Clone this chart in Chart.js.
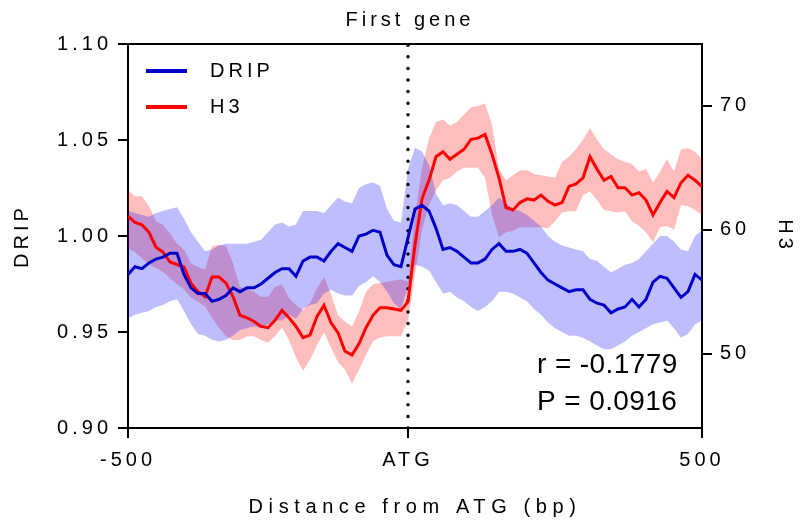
<!DOCTYPE html>
<html>
<head>
<meta charset="utf-8">
<script src="https://cdn.jsdelivr.net/npm/chart.js@4.4.0/dist/chart.umd.min.js"></script>
<style>
  html, body { margin: 0; padding: 0; background: #fff; }
</style>
</head>
<body>
<canvas id="chart" width="800" height="522"></canvas>
<script>
// profile bins: 83 bins from -500 to +500 bp, ATG sits at bin 40
const tickBins = [0, 40, 82];
const tickLabels = ['-500', 'ATG', '500'];
const atgBin = 40;
const dripTicks = [0.90, 0.95, 1.00, 1.05, 1.10];
const h3Ticks = [50, 60, 70];
const stats = ['r = -0.1779', 'P = 0.0916'];

const dripMean = [
  0.980, 0.984, 0.983, 0.986, 0.988, 0.989, 0.991, 0.991, 0.980, 0.973,
  0.970, 0.970, 0.966, 0.967, 0.969, 0.973, 0.971, 0.973, 0.973, 0.975,
  0.978, 0.981, 0.983, 0.983, 0.979, 0.987, 0.989, 0.989, 0.987, 0.992,
  0.996, 0.994, 0.992, 1.000, 1.001, 1.003, 1.002, 0.990, 0.985, 0.984,
  0.999, 1.014, 1.016, 1.013, 1.004, 0.993, 0.994, 0.992, 0.989, 0.986,
  0.986, 0.988, 0.993, 0.996, 0.992, 0.992, 0.993, 0.991, 0.986, 0.981,
  0.977, 0.975, 0.973, 0.971, 0.972, 0.972, 0.967, 0.965, 0.964, 0.960,
  0.962, 0.963, 0.967, 0.963, 0.967, 0.976, 0.979, 0.978, 0.973, 0.968,
  0.971, 0.980, 0.977
];
const dripUpper = [
  1.013, 1.012, 1.011, 1.010, 1.012, 1.013, 1.014, 1.015, 1.009, 1.002,
  0.997, 0.992, 0.993, 0.995, 0.996, 0.996, 0.996, 0.996, 0.997, 0.998,
  1.002, 1.006, 1.007, 1.005, 1.006, 1.013, 1.013, 1.013, 1.012, 1.016,
  1.020, 1.018, 1.017, 1.025, 1.027, 1.028, 1.026, 1.014, 1.008, 1.007,
  1.035, 1.046, 1.044, 1.037, 1.022, 1.016, 1.017, 1.016, 1.013, 1.010,
  1.010, 1.013, 1.016, 1.020, 1.017, 1.014, 1.013, 1.011, 1.008, 1.005,
  1.000, 0.997, 0.995, 0.994, 0.993, 0.992, 0.988, 0.987, 0.984, 0.981,
  0.983, 0.985, 0.986, 0.988, 0.992, 0.996, 1.000, 1.000, 0.997, 0.993,
  0.992, 1.000, 1.003
];
const dripLower = [
  0.957, 0.959, 0.960, 0.961, 0.963, 0.964, 0.966, 0.967, 0.961, 0.954,
  0.949, 0.948, 0.946, 0.945, 0.946, 0.948, 0.951, 0.952, 0.953, 0.952,
  0.954, 0.956, 0.956, 0.959, 0.957, 0.962, 0.964, 0.965, 0.970, 0.972,
  0.970, 0.969, 0.969, 0.974, 0.976, 0.979, 0.976, 0.971, 0.965, 0.962,
  0.974, 0.985, 0.984, 0.982, 0.976, 0.970, 0.971, 0.968, 0.966, 0.963,
  0.961, 0.963, 0.966, 0.971, 0.971, 0.970, 0.968, 0.966, 0.962, 0.959,
  0.955, 0.952, 0.950, 0.948, 0.948, 0.947, 0.945, 0.943, 0.941, 0.941,
  0.943, 0.945, 0.948, 0.950, 0.952, 0.954, 0.955, 0.956, 0.952, 0.947,
  0.949, 0.954, 0.956
];

const h3Mean = [
  61.1, 60.6, 60.4, 59.8, 58.6, 58.2, 57.4, 57.2, 57.0, 55.7,
  55.0, 54.6, 56.2, 56.2, 55.7, 54.6, 53.1, 52.9, 52.6, 52.2,
  52.1, 52.7, 53.5, 52.9, 52.2, 51.3, 51.5, 53.0, 53.9, 52.5,
  51.7, 50.2, 49.9, 50.8, 52.1, 53.1, 53.7, 53.7, 53.6, 53.5,
  54.2, 58.8, 62.5, 64.0, 65.9, 66.3, 65.7, 66.1, 66.5, 67.3,
  67.4, 67.7, 66.1, 64.2, 61.8, 61.6, 62.2, 62.5, 62.4, 62.8,
  62.3, 62.0, 62.2, 63.5, 63.7, 64.2, 65.9, 64.9, 64.0, 64.3,
  63.4, 63.4, 62.8, 63.0, 62.4, 61.2, 62.2, 63.1, 62.6, 63.8,
  64.4, 64.0, 63.5
];
const h3Upper = [
  63.2, 62.7, 62.7, 61.9, 60.7, 60.4, 59.7, 58.9, 58.4, 57.3,
  57.0, 56.8, 58.7, 58.8, 58.7, 57.3, 55.4, 55.2, 55.0, 54.6,
  54.6, 55.4, 55.6, 54.5, 53.9, 53.5, 54.1, 55.3, 56.2, 54.8,
  53.1, 52.6, 52.2, 53.4, 55.0, 55.6, 55.7, 55.8, 55.9, 56.0,
  55.8, 61.2, 65.0, 67.4, 68.7, 68.9, 68.4, 68.7, 69.3, 69.9,
  70.0, 70.2, 68.5, 64.9, 64.0, 64.4, 64.8, 64.8, 64.5, 64.4,
  64.3, 64.2, 65.5, 65.9, 66.5, 67.3, 68.2, 67.3, 66.5, 66.1,
  65.7, 65.5, 65.3, 64.7, 64.9, 63.8, 64.7, 65.7, 64.7, 66.5,
  66.6, 66.3, 65.7
];
const h3Lower = [
  58.5, 58.2, 57.7, 57.2, 56.9, 56.6, 56.1, 55.6, 55.2, 54.5,
  54.2, 53.8, 52.9, 52.1, 51.4, 51.1, 51.1, 51.4, 51.4, 51.1,
  50.9, 51.4, 52.1, 51.1, 49.7, 48.6, 49.5, 50.7, 51.7, 50.5,
  49.3, 48.7, 47.6, 48.7, 49.9, 51.0, 51.3, 51.4, 51.4, 51.4,
  52.7, 56.4, 60.0, 62.0, 63.2, 64.0, 64.2, 64.7, 65.0, 65.0,
  65.0, 64.2, 61.2, 59.4, 59.8, 59.9, 60.2, 60.2, 60.2, 60.2,
  60.1, 60.7, 61.4, 61.5, 61.5, 62.8, 63.1, 62.4, 61.6, 61.5,
  61.4, 61.5, 60.7, 60.3, 59.8, 59.0, 60.2, 60.3, 60.0, 62.0,
  61.9, 61.6, 61.2
];

const FONT = '"Liberation Sans", Arial, Helvetica, sans-serif';
Chart.defaults.font.family = FONT;
Chart.defaults.font.size = 20;
Chart.defaults.color = '#000';

const pts = arr => arr.map((y, i) => ({ x: i, y }));

const blue = '#0000c8';
const red = '#ff0000';

// canvas letter spacing (Prism-style wide text); reset by canvas resize so set it each pass
const spacing = {
  id: 'spacing',
  beforeUpdate(chart) { chart.ctx.letterSpacing = '4px'; },
  beforeDraw(chart) { chart.ctx.letterSpacing = '4px'; }
};

// x axis title is spaced out a bit wider than the tick labels
function wideTitle(scale) {
  if (scale._wideTitle) return;
  const draw = scale.drawTitle.bind(scale);
  scale.drawTitle = () => {
    scale.ctx.save();
    scale.ctx.letterSpacing = '5.6px';
    draw();
    scale.ctx.restore();
  };
  scale._wideTitle = true;
}

// title over the ATG mark, in-plot legend and correlation text
const extras = {
  id: 'extras',
  afterDraw(chart) {
    const { ctx, chartArea, scales } = chart;
    ctx.save();
    ctx.fillStyle = '#000';
    ctx.textBaseline = 'middle';
    ctx.font = '20px ' + FONT;
    ctx.letterSpacing = '4px';
    ctx.textAlign = 'center';
    ctx.fillText('First gene', scales.x.getPixelForValue(atgBin) + 2, 20);

    const items = chart.data.datasets.filter(d => d.inLegend);
    items.forEach((d, k) => {
      const y = chartArea.top + 27 + k * 36;
      ctx.strokeStyle = d.borderColor;
      ctx.lineWidth = 4;
      ctx.beginPath();
      ctx.moveTo(chartArea.left + 18, y);
      ctx.lineTo(chartArea.left + 59, y);
      ctx.stroke();
      ctx.textAlign = 'left';
      ctx.fillText(d.label, chartArea.left + 82, y);
    });

    ctx.font = '28px ' + FONT;
    ctx.letterSpacing = '0.4px';
    ctx.textAlign = 'left';
    stats.forEach((s, k) => ctx.fillText(s, 537, 365 + k * 37));
    ctx.restore();
  }
};

new Chart(document.getElementById('chart'), {
  type: 'line',
  data: {
    datasets: [
      { label: 'DRIP', inLegend: true, data: pts(dripMean), yAxisID: 'y',
        borderColor: blue, borderWidth: 3, order: 0 },
      { label: 'H3', inLegend: true, data: pts(h3Mean), yAxisID: 'y2',
        borderColor: red, borderWidth: 3, order: 1 },
      { label: 'ATG', data: [{ x: atgBin, y: dripTicks[0] }, { x: atgBin, y: dripTicks[dripTicks.length - 1] }],
        yAxisID: 'y', borderColor: '#000', borderWidth: 3.5, borderDash: [0, 11.6],
        borderCapStyle: 'round', order: 2 },
      { label: 'DRIP upper', data: pts(dripUpper), yAxisID: 'y', borderWidth: 0,
        fill: '+1', backgroundColor: 'rgba(0,0,255,0.255)', order: 3 },
      { label: 'DRIP lower', data: pts(dripLower), yAxisID: 'y', borderWidth: 0, order: 3 },
      { label: 'H3 upper', data: pts(h3Upper), yAxisID: 'y2', borderWidth: 0,
        fill: '+1', backgroundColor: 'rgba(255,0,0,0.255)', order: 4 },
      { label: 'H3 lower', data: pts(h3Lower), yAxisID: 'y2', borderWidth: 0, order: 4 }
    ]
  },
  options: {
    responsive: false,
    devicePixelRatio: 1,
    animation: false,
    events: [],
    layout: { padding: { top: 44, left: 0, right: 0, bottom: 0 } },
    elements: { point: { radius: 0 }, line: { tension: 0 } },
    plugins: { legend: { display: false }, tooltip: { enabled: false } },
    scales: {
      x: {
        type: 'linear', min: tickBins[0], max: tickBins[tickBins.length - 1],
        afterBuildTicks: s => { s.ticks = tickBins.map(v => ({ value: v })); },
        afterFit: s => { s.height = 94; wideTitle(s); },
        ticks: { autoSkip: false, maxRotation: 0, padding: 10,
          callback: v => tickLabels[tickBins.indexOf(v)] },
        grid: { drawOnChartArea: false, tickLength: 10, color: '#000', lineWidth: 2 },
        border: { color: '#000', width: 2 },
        title: { display: true, text: 'Distance from ATG (bp)', padding: { top: 0, bottom: 3 } }
      },
      xTop: {
        type: 'linear', position: 'top', min: tickBins[0], max: tickBins[tickBins.length - 1],
        afterFit: s => { s.height = 0; },
        ticks: { display: false },
        grid: { drawOnChartArea: false, drawTicks: false },
        border: { color: '#000', width: 2 }
      },
      y: {
        position: 'left', min: dripTicks[0], max: dripTicks[dripTicks.length - 1],
        afterBuildTicks: s => { s.ticks = dripTicks.map(v => ({ value: v })); },
        afterFit: s => { s.width = 128; },
        ticks: { padding: 6, callback: v => v.toFixed(2) },
        grid: { drawOnChartArea: false, tickLength: 10, color: '#000', lineWidth: 2 },
        border: { color: '#000', width: 2 },
        title: { display: true, text: 'DRIP', padding: { top: 10, bottom: 0 } }
      },
      y2: {
        position: 'right', min: 44, max: 75,
        afterBuildTicks: s => { s.ticks = h3Ticks.map(v => ({ value: v })); },
        afterFit: s => { s.width = 98; },
        ticks: { padding: 8 },
        grid: { drawOnChartArea: false, tickLength: 10, color: '#000', lineWidth: 2 },
        border: { color: '#000', width: 2 },
        title: { display: true, text: 'H3', padding: { top: 3, bottom: 0 } }
      }
    }
  },
  plugins: [spacing, extras]
});
</script>
</body>
</html>
